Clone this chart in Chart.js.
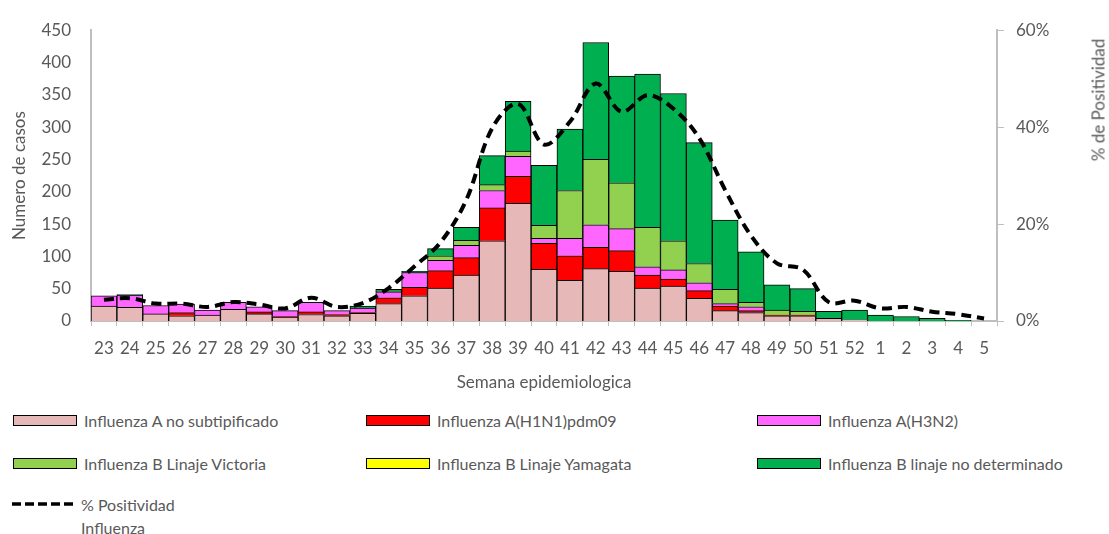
<!DOCTYPE html>
<html>
<head>
<meta charset="utf-8">
<script src="https://cdn.jsdelivr.net/npm/chart.js@4.4.1/dist/chart.umd.min.js"></script>
<style>
  body { margin: 0; background: #fff; font-family: Lato, sans-serif; color: #595959; }
  #wrap { position: relative; width: 1109px; height: 534px; overflow: hidden; }
  #c { position: absolute; left: 0; top: 0; }
  #rightTitle { position: absolute; left: 1098px; top: 100px; transform: translate(-50%, -50%) rotate(-90deg); white-space: nowrap; font-size: 17px; }
  .lg { position: absolute; display: flex; align-items: center; font-size: 16px; white-space: nowrap; }
  .lg .box { width: 62px; height: 9px; border: 1px solid #000; margin-right: 7px; }
  .lg svg { margin-right: 4px; }
</style>
</head>
<body>
<div id="wrap">
  <canvas id="c" width="1109" height="401"></canvas>
  <div id="rightTitle">% de Positividad</div>
  <div id="legend"></div>
</div>
<script>
const weeks = ['23','24','25','26','27','28','29','30','31','32','33','34','35','36','37','38','39','40','41','42','43','44','45','46','47','48','49','50','51','52','1','2','3','4','5'];

const aNoSub   = [23, 21, 11, 8, 9, 18, 11, 6, 10, 8, 12, 27, 39, 51, 71, 124, 182, 80, 63, 81, 77, 51, 54, 35, 16, 13, 8, 8, 4, 2, 0, 0, 0, 0, 0];
const aH1N1    = [0, 0, 0, 5, 0, 0, 3, 1, 4, 2, 1, 9, 13, 27, 27, 51, 42, 40, 38, 33, 32, 20, 11, 12, 7, 3, 1, 1, 0, 0, 0, 0, 0, 0, 0];
const aH3N2    = [16, 19, 13, 13, 8, 11, 8, 9, 15, 6, 7, 9, 23, 16, 19, 27, 31, 8, 27, 35, 34, 13, 14, 12, 4, 6, 0, 0, 0, 0, 0, 0, 0, 0, 0];
const bVictoria = [0, 0, 0, 0, 0, 0, 0, 0, 0, 0, 0, 1, 0, 7, 8, 9, 8, 20, 74, 101, 71, 61, 45, 30, 22, 7, 8, 6, 0, 0, 0, 0, 0, 0, 0];
const bYamagata = [0, 0, 0, 0, 0, 0, 0, 0, 0, 0, 0, 0, 0, 0, 0, 0, 0, 0, 0, 0, 0, 0, 0, 0, 0, 0, 0, 0, 0, 0, 0, 0, 0, 0, 0];
const bNoDet   = [0, 1, 0, 0, 0, 0, 0, 0, 0, 0, 3, 3, 2, 11, 20, 45, 77, 93, 95, 181, 165, 237, 228, 187, 107, 78, 39, 35, 11, 15, 9, 7, 4, 1, 0];
const positividad = [0.044, 0.047, 0.036, 0.036, 0.029, 0.039, 0.034, 0.026, 0.048, 0.029, 0.037, 0.068, 0.113, 0.162, 0.25, 0.398, 0.448, 0.364, 0.411, 0.49, 0.432, 0.466, 0.438, 0.377, 0.27, 0.176, 0.119, 0.106, 0.039, 0.042, 0.026, 0.029, 0.019, 0.014, 0.005];

const txt = '#595959';
const axisGray = '#BFBFBF';
Chart.defaults.font.family = 'Lato';
Chart.defaults.font.size = 17;
Chart.defaults.color = txt;

function bar(label, data, color) {
  return { type: 'bar', label, data, backgroundColor: color, borderColor: '#000', borderWidth: 1,
           barPercentage: 1, categoryPercentage: 1, yAxisID: 'y', order: 1 };
}

const datasets = [
  bar('Influenza A no subtipificado', aNoSub, '#E6B8B7'),
  bar('Influenza A(H1N1)pdm09', aH1N1, '#FF0000'),
  bar('Influenza A(H3N2)', aH3N2, '#FF66FF'),
  bar('Influenza B Linaje Victoria', bVictoria, '#92D050'),
  bar('Influenza B Linaje Yamagata', bYamagata, '#FFFF00'),
  bar('Influenza B linaje no determinado', bNoDet, '#00B050'),
  {
    type: 'line', label: '% Positividad Influenza', data: positividad, yAxisID: 'y1', order: 0,
    borderColor: '#000', borderWidth: 4, borderDash: [10, 6], pointRadius: 0, tension: 0.35, fill: false
  }
];

const chart = new Chart(document.getElementById('c'), {
  data: { labels: weeks, datasets },
  options: {
    responsive: false,
    animation: false,
    layout: { padding: { top: 23, left: 0, right: 0, bottom: 0 } },
    plugins: { legend: { display: false }, tooltip: { enabled: false } },
    scales: {
      x: {
        stacked: true,
        grid: { display: true, drawOnChartArea: false, tickLength: 5, color: axisGray, offset: true },
        border: { display: true, color: axisGray, width: 2 },
        ticks: { padding: 12, maxRotation: 0, autoSkip: false },
        title: { display: true, text: 'Semana epidemiologica', padding: { top: 0, bottom: 8 } },
        afterFit: s => { s.height = 80; }
      },
      y: {
        stacked: true, position: 'left', min: 0, max: 450,
        ticks: { stepSize: 50, padding: 20 },
        grid: { display: false, drawTicks: false },
        border: { display: true, color: axisGray, width: 2 },
        title: { display: true, text: 'Numero de casos', padding: { top: 9, bottom: 0 } },
        afterFit: s => { s.width = 91; }
      },
      y1: {
        position: 'right', min: 0, max: 0.6,
        ticks: { stepSize: 0.2, padding: 12, callback: v => Math.round(v * 100) + '%' },
        grid: { display: true, drawOnChartArea: false, tickLength: 7, color: axisGray },
        border: { display: true, color: axisGray, width: 2 },
        afterFit: s => { s.width = 112; }
      }
    }
  }
});

// legend laid out in three columns like the original
const legend = document.getElementById('legend');
const colX = [13, 366, 757];
const rowY = [420, 463];
chart.data.datasets.filter(d => d.type === 'bar').forEach((d, i) => {
  const el = document.createElement('div');
  el.className = 'lg';
  el.style.left = colX[i % 3] + 'px';
  el.style.top = (rowY[Math.floor(i / 3)] - 10) + 'px';
  el.style.height = '20px';
  el.innerHTML = `<div class="box" style="background:${d.backgroundColor}"></div><span>${d.label}</span>`;
  legend.appendChild(el);
});
const lineDs = chart.data.datasets.find(d => d.type === 'line');
const lineEl = document.createElement('div');
lineEl.className = 'lg';
lineEl.style.left = '12px';
lineEl.style.top = '494px';
lineEl.style.alignItems = 'flex-start';
lineEl.innerHTML = `<svg width="65" height="20"><line x1="0" y1="10" x2="65" y2="10" stroke="${lineDs.borderColor}" stroke-width="3.5" stroke-dasharray="9,4"/></svg><span style="line-height:23px;margin-top:-1px">% Positividad<br>Influenza</span>`;
legend.appendChild(lineEl);
</script>
</body>
</html>
